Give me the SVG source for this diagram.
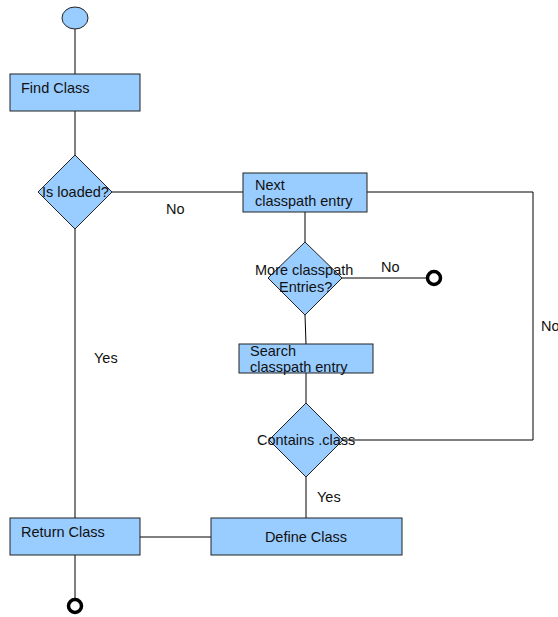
<svg xmlns="http://www.w3.org/2000/svg" width="558" height="617" viewBox="0 0 558 617">
<style>
.n{fill:#99ccff;stroke:#222;stroke-width:1}
.t{font-family:"Liberation Sans",Arial,sans-serif;font-size:14.5px;fill:#111}
.c{fill:none;stroke:#000;stroke-width:1}
.e{fill:#fff;stroke:#000;stroke-width:3.5}
</style>
<rect width="558" height="617" fill="#fff"/>
<g id="connectors">
<line class="c" x1="75" y1="29" x2="75" y2="74"/>
<line class="c" x1="75" y1="111" x2="75" y2="155"/>
<line class="c" x1="112" y1="192" x2="243" y2="192"/>
<polyline class="c" points="367,192 533,192 533,440 343,440"/>
<line class="c" x1="305" y1="212" x2="305" y2="242"/>
<line class="c" x1="342" y1="278" x2="427" y2="278"/>
<line class="c" x1="305" y1="315" x2="306" y2="344"/>
<line class="c" x1="306" y1="373" x2="306" y2="403"/>
<line class="c" x1="306" y1="477" x2="306" y2="518"/>
<line class="c" x1="211" y1="537" x2="140" y2="537"/>
<line class="c" x1="75" y1="229" x2="75" y2="518"/>
<line class="c" x1="75" y1="555" x2="75" y2="599"/>
<text class="t" x="166" y="214">No</text>
<text class="t" x="381" y="272">No</text>
<text class="t" x="541" y="331">No</text>
<text class="t" x="94" y="363">Yes</text>
<text class="t" x="317" y="502">Yes</text>
</g>
<g id="start"><ellipse class="n" cx="75" cy="18" rx="13" ry="11"/></g>
<g id="find-class"><rect class="n" x="10" y="74" width="130" height="37"/><text class="t" x="21" y="93">Find Class</text></g>
<g id="is-loaded"><polygon class="n" points="75,155 112,192 75,229 38,192"/><text class="t" x="42" y="197">Is loaded?</text></g>
<g id="next-entry"><rect class="n" x="243" y="173" width="124" height="39"/><text class="t" x="255" y="190">Next</text><text class="t" x="255" y="206">classpath entry</text></g>
<g id="more-entries"><polygon class="n" points="305,242 342,278 305,315 268,278"/><text class="t" x="255" y="275">More classpath</text><text class="t" x="279" y="292">Entries?</text></g>
<g id="end1"><circle class="e" cx="434" cy="278" r="6.5"/></g>
<g id="search-entry"><rect class="n" x="239" y="344" width="134" height="29"/><text class="t" x="250" y="356">Search</text><text class="t" x="250" y="372">classpath entry</text></g>
<g id="contains-class"><polygon class="n" points="306,403 343,440 306,477 269,440"/><text class="t" x="257" y="445">Contains .class</text></g>
<g id="define-class"><rect class="n" x="211" y="518" width="191" height="37"/><text class="t" x="306" y="542" text-anchor="middle">Define Class</text></g>
<g id="return-class"><rect class="n" x="10" y="518" width="130" height="37"/><text class="t" x="21" y="537">Return Class</text></g>
<g id="end2"><circle class="e" cx="75" cy="606" r="6.5"/></g>
</svg>
